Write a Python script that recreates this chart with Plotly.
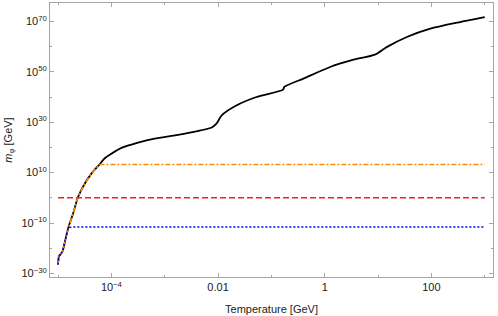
import numpy as np
import plotly.graph_objects as go

# Data (log-log)
temperature = [1.0e-5, 1.04e-5, 1.20e-5, 1.37e-5, 1.56e-5, 1.91e-5, 2.37e-5, 3.16e-5,
               4.22e-5, 6.03e-5, 7.41e-5, 1.0e-4, 1.55e-4, 3.16e-4, 6.46e-4, 1.91e-3,
               7.59e-3, 9.33e-3, 1.17e-2, 2.24e-2, 5.25e-2, 0.166, 0.174, 0.398,
               1.26, 3.47, 8.71, 14.5, 34.7, 95.5, 302.0, 1000.0]
m_phi = [3.2e-27, 6.3e-24, 3.2e-22, 2.0e-17, 1.6e-12, 5.0e-7, 2.0, 4.0e5,
         4.0e9, 2.0e13, 4.0e15, 3.2e17, 6.3e19, 7.9e21, 3.2e23, 1.26e25,
         7.9e27, 2.5e29, 5.0e32, 5.0e36, 1.0e40, 7.9e42, 1.0e44, 2.0e47,
         7.9e51, 6.3e54, 6.3e56, 6.3e59, 6.3e63, 1.26e67, 3.2e69, 5.0e71]

cap_orange = 1.6e13
level_red = 1.0
cap_blue = 2.5e-12

x_tickvals = [1e-4, 1e-2, 1, 100]
x_ticktext = ["10<sup>\u22124</sup>", "0.01", "1", "100"]
x_minorvals = [1e-5, 1e-3, 1e-1, 10, 1000]
y_tickvals = [1e-30, 1e-10, 1e10, 1e30, 1e50, 1e70]
y_ticktext = ["10<sup>\u221230</sup>", "10<sup>\u221210</sup>", "10<sup>10</sup>",
              "10<sup>30</sup>", "10<sup>50</sup>", "10<sup>70</sup>"]
y_minorvals = [1e-20, 1e0, 1e20, 1e40, 1e60]

T = np.array(temperature)
M = np.array(m_phi)

fig = go.Figure()
fig.add_trace(go.Scatter(x=T, y=M, mode="lines",
                         line=dict(color="black", width=1.8, shape="spline", smoothing=0.7),
                         showlegend=False))
fig.add_trace(go.Scatter(x=T, y=np.minimum(M, cap_orange), mode="lines",
                         line=dict(color="#FF8C00", width=1.5, dash="5px,2px,2px,2px"),
                         showlegend=False))
fig.add_trace(go.Scatter(x=[T[0], T[-1]], y=[level_red, level_red], mode="lines",
                         line=dict(color="#FF1A1A", width=1.6, dash="6px,3px"),
                         showlegend=False))
fig.add_trace(go.Scatter(x=T, y=np.minimum(M, cap_blue), mode="lines",
                         line=dict(color="#0000FF", width=1.5, dash="2px,2px"),
                         showlegend=False))

font = dict(family="Liberation Sans, Arial, sans-serif", size=11, color="#222222")
axis_common = dict(showline=True, linecolor="#a6a6a6", linewidth=1, mirror="allticks",
                   ticks="inside", ticklen=4, tickcolor="#a6a6a6", tickwidth=1,
                   showgrid=False, zeroline=False, tickfont=font, automargin=False)

fig.update_xaxes(type="log", range=[-5.151, 3.155], tickmode="array",
                 tickvals=x_tickvals, ticktext=x_ticktext,
                 minor=dict(tickmode="array", tickvals=x_minorvals, ticks="inside",
                            ticklen=2, tickcolor="#a6a6a6", showgrid=False),
                 title=dict(text="Temperature [GeV]", font=font, standoff=13),
                 **axis_common)
fig.update_yaxes(type="log", range=[-31.43, 77.3], tickmode="array",
                 tickvals=y_tickvals, ticktext=y_ticktext,
                 minor=dict(tickmode="array", tickvals=y_minorvals, ticks="inside",
                            ticklen=2, tickcolor="#a6a6a6", showgrid=False),
                 title=dict(text="<i>m</i><sub>φ</sub> [GeV]", font=font, standoff=6),
                 **axis_common)

fig.update_layout(width=498, height=316,
                  margin=dict(l=50, r=5, t=3, b=39),
                  plot_bgcolor="white", paper_bgcolor="white", font=font)

fig.write_html("out.html", config={"displayModeBar": False},
               post_script="document.body.style.margin='0';")
